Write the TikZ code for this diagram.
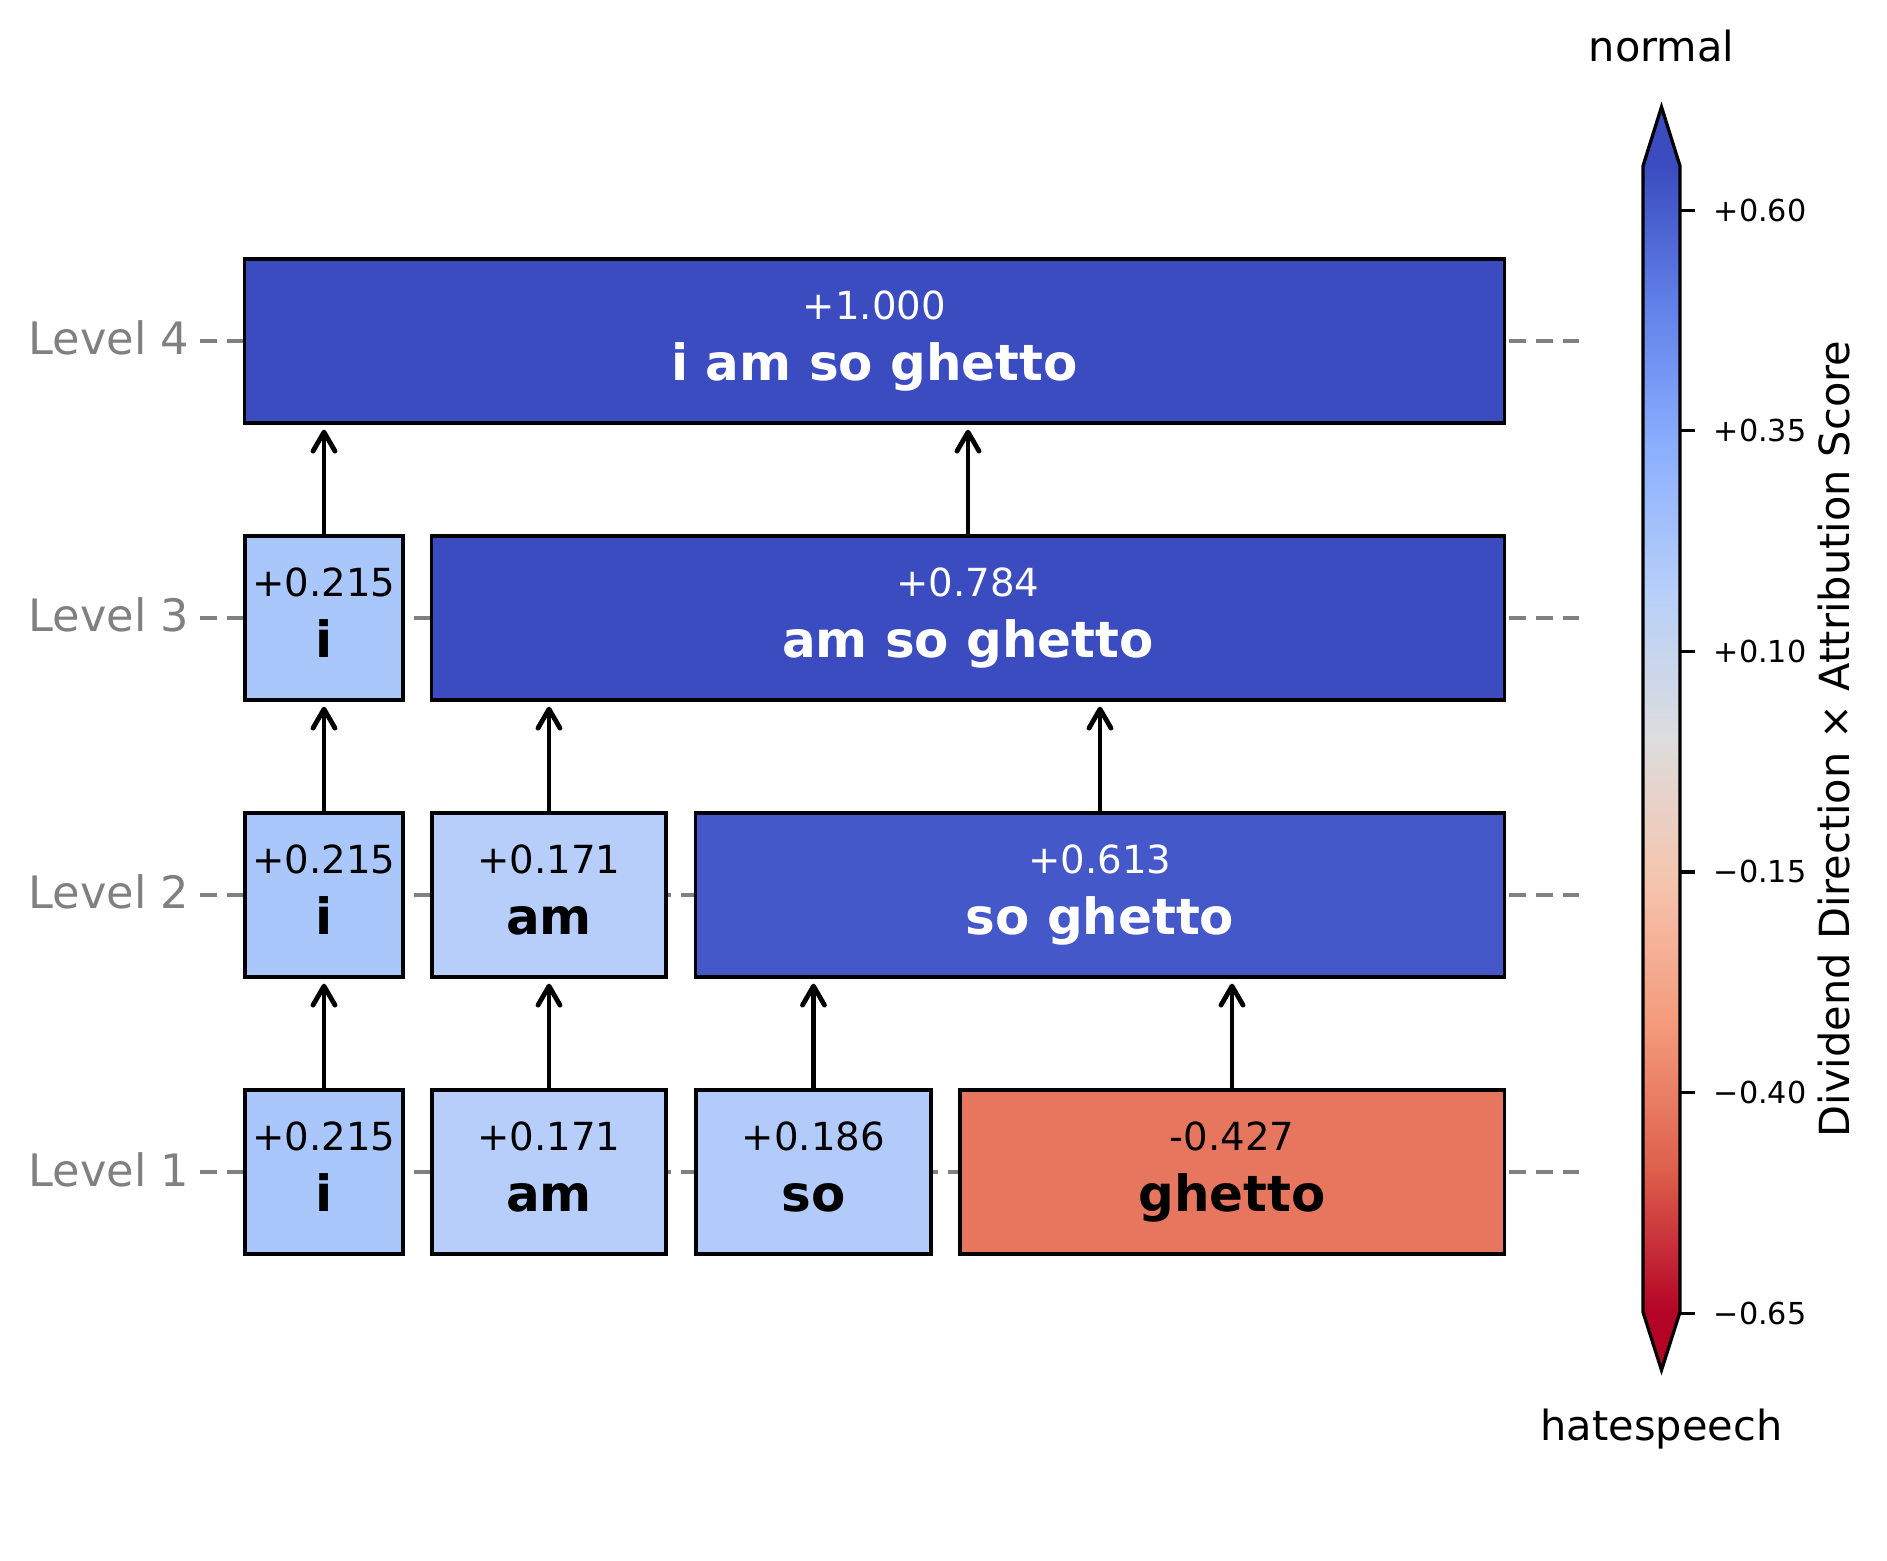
\documentclass[tikz,border=0pt]{standalone}
\usepackage{fontspec}
\setmainfont{DejaVu Sans}
\usetikzlibrary{arrows.meta}

\definecolor{cTop}{RGB}{59,76,192}
\definecolor{cSg}{RGB}{68,88,202}
\definecolor{cI}{RGB}{170,199,251}
\definecolor{cAm}{RGB}{182,206,249}
\definecolor{cSo}{RGB}{178,203,250}
\definecolor{cGh}{RGB}{230,118,94}
\definecolor{cLow}{RGB}{180,4,38}
% coolwarm stops, red (bottom) to blue (top)
\definecolor{cw1}{RGB}{222,96,77}
\definecolor{cw2}{RGB}{244,154,123}
\definecolor{cw3}{RGB}{245,196,173}
\definecolor{cw4}{RGB}{221,221,221}
\definecolor{cw5}{RGB}{184,208,249}
\definecolor{cw6}{RGB}{141,176,254}
\definecolor{cw7}{RGB}{98,130,234}
\pgfdeclareverticalshading{cbarshade}{100bp}{color(0bp)=(cLow); color(25bp)=(cLow);
  color(31.25bp)=(cw1); color(37.5bp)=(cw2); color(43.75bp)=(cw3); color(50bp)=(cw4);
  color(56.25bp)=(cw5); color(62.5bp)=(cw6); color(68.75bp)=(cw7); color(75bp)=(cTop);
  color(100bp)=(cTop)}

\begin{document}
\begin{tikzpicture}[x=0.01cm,y=-0.01cm,
seg/.style={draw,rectangle,inner sep=0pt,minimum height=1.64cm,line width=0.033cm},
val/.style={anchor=base,inner sep=0pt,font=\fontsize{11}{13}\selectfont},
word/.style={anchor=base,inner sep=0pt,font=\fontsize{14.2}{17}\selectfont\bfseries},
up/.style={line width=0.048cm,-{Straight Barb[length=0.19cm,width=0.22cm,round]},shorten >=0.05cm},
guide/.style={gray,line width=0.042cm,dash pattern=on 0.167cm off 0.1cm},
lvl/.style={anchor=base east,inner sep=0pt,text=gray,font=\fontsize{12.7}{15}\selectfont},
tick/.style={anchor=base west,inner sep=0pt,font=\fontsize{8.6}{10}\selectfont},
cbtitle/.style={anchor=base,inner sep=0pt,font=\fontsize{11.8}{14}\selectfont}]

\useasboundingbox (0,0) rectangle (1887,1561);

% level labels and guide lines
\foreach \n/\y in {1/1172,2/895,3/618,4/341}{
  \node[lvl] (lv\n) at (190,\y+14) {Level \n};
  \draw[guide] (200,\y) -- (1587,\y);
}

% level 1
\node[seg,fill=cI,minimum width=1.58cm] (t1i) at (324,1172) {};
\node[seg,fill=cAm,minimum width=2.34cm] (t1am) at (549,1172) {};
\node[seg,fill=cSo,minimum width=2.35cm] (t1so) at (813.5,1172) {};
\node[seg,fill=cGh,minimum width=5.44cm] (t1gh) at (1232,1172) {};
\node[val] (v1i) at ([yshift=0.21cm]t1i.center) {+0.215};
\node[word] (w1i) at ([yshift=-0.39cm]t1i.center) {i};
\node[val] (v1am) at ([yshift=0.21cm]t1am.center) {+0.171};
\node[word] (w1am) at ([yshift=-0.39cm]t1am.center) {am};
\node[val] (v1so) at ([yshift=0.21cm]t1so.center) {+0.186};
\node[word] (w1so) at ([yshift=-0.39cm]t1so.center) {so};
\node[val] (v1gh) at ([yshift=0.21cm]t1gh.center) {-0.427};
\node[word] (w1gh) at ([yshift=-0.39cm]t1gh.center) {ghetto};

% level 2
\node[seg,fill=cI,minimum width=1.58cm] (t2i) at (324,895) {};
\node[seg,fill=cAm,minimum width=2.34cm] (t2am) at (549,895) {};
\node[seg,fill=cSg,minimum width=8.08cm] (t2sg) at (1100,895) {};
\node[val] (v2i) at ([yshift=0.21cm]t2i.center) {+0.215};
\node[word] (w2i) at ([yshift=-0.39cm]t2i.center) {i};
\node[val] (v2am) at ([yshift=0.21cm]t2am.center) {+0.171};
\node[word] (w2am) at ([yshift=-0.39cm]t2am.center) {am};
\node[val,text=white] (v2sg) at ([yshift=0.21cm]t2sg.center) {+0.613};
\node[word,text=white] (w2sg) at ([yshift=-0.39cm]t2sg.center) {so ghetto};

% level 3
\node[seg,fill=cI,minimum width=1.58cm] (t3i) at (324,618) {};
\node[seg,fill=cTop,minimum width=10.72cm] (t3asg) at (968,618) {};
\node[val] (v3i) at ([yshift=0.21cm]t3i.center) {+0.215};
\node[word] (w3i) at ([yshift=-0.39cm]t3i.center) {i};
\node[val,text=white] (v3asg) at ([yshift=0.21cm]t3asg.center) {+0.784};
\node[word,text=white] (w3asg) at ([yshift=-0.39cm]t3asg.center) {am so ghetto};

% level 4
\node[seg,fill=cTop,minimum width=12.59cm] (t4all) at (874.5,341) {};
\node[val,text=white] (v4all) at ([yshift=0.21cm]t4all.center) {+1.000};
\node[word,text=white] (w4all) at ([yshift=-0.39cm]t4all.center) {i am so ghetto};

% merges
\draw[up] (t1i.north) -- (t1i.north |- t2i.south);
\draw[up] (t1am.north) -- (t1am.north |- t2am.south);
\draw[up] (t1so.north) -- (t1so.north |- t2sg.south);
\draw[up] (t1gh.north) -- (t1gh.north |- t2sg.south);
\draw[up] (t2i.north) -- (t2i.north |- t3i.south);
\draw[up] (t2am.north) -- (t2am.north |- t3asg.south);
\draw[up] (t2sg.north) -- (t2sg.north |- t3asg.south);
\draw[up] (t3i.north) -- (t3i.north |- t4all.south);
\draw[up] (t3asg.north) -- (t3asg.north |- t4all.south);

% colour bar
\shade[shading=cbarshade] (1643,166) rectangle (1680,1312);
\fill[cTop] (1643,166) -- (1661.5,107) -- (1680,166) -- cycle;
\fill[cLow] (1643,1312) -- (1661.5,1370) -- (1680,1312) -- cycle;
\draw[line width=0.033cm] (1643,166) -- (1661.5,107) -- (1680,166) -- (1680,1312)
  -- (1661.5,1370) -- (1643,1312) -- cycle;
\foreach \t/\v [count=\k] in {210.5/{+0.60},431/{+0.35},651.5/{+0.10},872/{−0.15},1092.5/{−0.40},1313/{−0.65}}{
  \draw[line width=0.03cm] (1680,\t) -- (1695,\t);
  \node[tick] (tk\k) at (1713,\t+11) {\v};
}
\node[cbtitle,rotate=90] (cblab) at (1849,739) {Dividend Direction × Attribution Score};
\node[cbtitle] (cbhi) at (1661.5,62) {normal};
\node[cbtitle] (cblo) at (1661.5,1440) {hatespeech};
\end{tikzpicture}
\end{document}
